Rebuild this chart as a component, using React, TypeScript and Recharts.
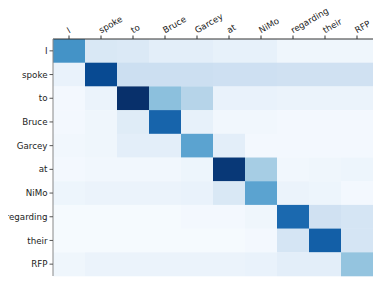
import React from "react";
import { BarChart, Bar, XAxis, YAxis, Cell } from "recharts";

const tokens = ["I", "spoke", "to", "Bruce", "Garcey", "at", "NiMo", "regarding", "their", "RFP"];

// attention weights, one row per query token (0..1)
const rowI = [0.62, 0.15, 0.14, 0.1, 0.1, 0.08, 0.08, 0.04, 0.04, 0.04];
const rowSpoke = [0.07, 0.9, 0.22, 0.22, 0.22, 0.21, 0.21, 0.2, 0.2, 0.2];
const rowTo = [0.02, 0.06, 1.0, 0.42, 0.3, 0.07, 0.07, 0.06, 0.06, 0.06];
const rowBruce = [0.02, 0.04, 0.12, 0.8, 0.08, 0.03, 0.03, 0.02, 0.02, 0.02];
const rowGarcey = [0.03, 0.04, 0.1, 0.1, 0.55, 0.1, 0.02, 0.02, 0.02, 0.02];
const rowAt = [0.02, 0.03, 0.03, 0.03, 0.05, 0.97, 0.35, 0.03, 0.04, 0.05];
const rowNiMo = [0.05, 0.06, 0.06, 0.06, 0.07, 0.15, 0.55, 0.06, 0.05, 0.02];
const rowRegarding = [0.01, 0.01, 0.01, 0.01, 0.02, 0.02, 0.04, 0.78, 0.2, 0.17];
const rowTheir = [0.01, 0.01, 0.01, 0.01, 0.01, 0.01, 0.02, 0.17, 0.82, 0.17];
const rowRFP = [0.04, 0.06, 0.06, 0.06, 0.06, 0.06, 0.07, 0.1, 0.1, 0.4];

const weights = [rowI, rowSpoke, rowTo, rowBruce, rowGarcey, rowAt, rowNiMo, rowRegarding, rowTheir, rowRFP];

const colTicks = tokens.map((_, j) => j + 0.5);

// matplotlib "Blues"
const blues = ["#f7fbff", "#deebf7", "#c6dbef", "#9ecae1", "#6baed6", "#4292c6", "#2171b5", "#08519c", "#08306b"];

const hex = (h: string) => [1, 3, 5].map((i) => parseInt(h.slice(i, i + 2), 16));

function bluesColor(v: number) {
  const t = Math.max(0, Math.min(1, v)) * (blues.length - 1);
  const i = Math.min(Math.floor(t), blues.length - 2);
  const f = t - i;
  const a = hex(blues[i]);
  const b = hex(blues[i + 1]);
  const c = a.map((x, k) => Math.round(x + (b[k] - x) * f));
  return `rgb(${c[0]},${c[1]},${c[2]})`;
}

const data = tokens.map((name) => {
  const row: Record<string, any> = { name };
  tokens.forEach((_, j) => (row[`c${j}`] = 1));
  return row;
});

const font = "DejaVu Sans";

const TopTick = (props: any) => {
  const { x, y, payload } = props;
  return (
    <text
      x={x}
      y={y}
      transform={`rotate(-30 ${x} ${y})`}
      textAnchor="start"
      fontSize={8.7}
      fontFamily={font}
      fill="#222"
    >
      {tokens[Math.floor(payload.value)]}
    </text>
  );
};

export default function App() {
  return (
    <div style={{ width: 383, height: 286, margin: -8 }}>
      <BarChart
        width={383}
        height={286}
        data={data}
        layout="vertical"
        margin={{ top: 8, right: 10, bottom: 10, left: 8 }}
        barCategoryGap={0}
        barGap={0}
      >
        <XAxis
          type="number"
          orientation="top"
          domain={[0, 10]}
          ticks={colTicks}
          interval={0}
          height={31}
          tick={<TopTick />}
          tickSize={3.5}
          axisLine={{ stroke: "#333" }}
          tickLine={{ stroke: "#333" }}
        />
        <XAxis
          xAxisId="b"
          type="number"
          orientation="bottom"
          domain={[0, 10]}
          height={0}
          tick={false}
          tickLine={false}
          axisLine={{ stroke: "#888" }}
        />
        <YAxis
          type="category"
          dataKey="name"
          width={45}
          interval={0}
          tickSize={3.5}
          tick={{ fontSize: 8.7, fontFamily: font, fill: "#222" }}
          axisLine={{ stroke: "#888" }}
          tickLine={{ stroke: "#555" }}
        />
        <YAxis
          yAxisId="r"
          type="number"
          orientation="right"
          domain={[0, 1]}
          width={0}
          tick={false}
          tickLine={false}
          axisLine={{ stroke: "#333" }}
        />
        {tokens.map((_, j) => (
          <Bar key={j} dataKey={`c${j}`} stackId="m" isAnimationActive={false}>
            {weights.map((row, i) => (
              <Cell key={i} fill={bluesColor(row[j])} />
            ))}
          </Bar>
        ))}
      </BarChart>
    </div>
  );
}
